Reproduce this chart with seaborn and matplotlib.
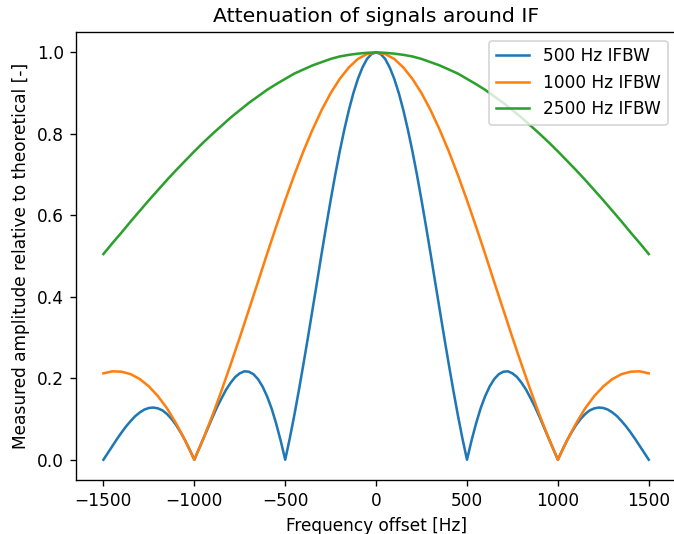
import numpy as np
import pandas as pd
import matplotlib
matplotlib.use("Agg")
import matplotlib.pyplot as plt
import seaborn as sns

# Frequency offsets [Hz]
freq_fine = np.arange(-1500, 1501, 25)   # 500 Hz trace, sampled more densely
freq = np.arange(-1500, 1501, 50)        # 1000 / 2500 Hz traces

# Measured amplitude
amp_500 = [0.000, 0.017, 0.034, 0.051, 0.067, 0.082, 0.095, 0.107, 0.116, 0.123,
           0.127, 0.128, 0.126, 0.121, 0.112, 0.100, 0.085, 0.067, 0.047, 0.024,
           0.000, 0.026, 0.052, 0.078, 0.104, 0.129, 0.151, 0.172, 0.189, 0.203,
           0.212, 0.217, 0.216, 0.210, 0.198, 0.180, 0.156, 0.126, 0.089, 0.047,
           0.000, 0.052, 0.109, 0.170, 0.234, 0.300, 0.368, 0.436, 0.505, 0.572,
           0.637, 0.699, 0.757, 0.810, 0.858, 0.900, 0.935, 0.963, 0.984, 0.996,
           1.000,
           0.996, 0.984, 0.963, 0.935, 0.900, 0.858, 0.810, 0.757, 0.699, 0.637,
           0.572, 0.505, 0.436, 0.368, 0.300, 0.234, 0.170, 0.109, 0.052, 0.000,
           0.047, 0.089, 0.126, 0.156, 0.180, 0.198, 0.210, 0.216, 0.217, 0.212,
           0.203, 0.189, 0.172, 0.151, 0.129, 0.104, 0.078, 0.052, 0.026, 0.000,
           0.024, 0.047, 0.067, 0.085, 0.100, 0.112, 0.121, 0.126, 0.128, 0.127,
           0.123, 0.116, 0.107, 0.095, 0.082, 0.067, 0.051, 0.034, 0.017, 0.000]

amp_1000 = [0.212, 0.217, 0.216, 0.210, 0.198, 0.180, 0.156, 0.126, 0.089, 0.047,
            0.000, 0.052, 0.109, 0.170, 0.234, 0.300, 0.368, 0.436, 0.505, 0.572,
            0.637, 0.699, 0.757, 0.810, 0.858, 0.900, 0.935, 0.963, 0.984, 0.996,
            1.000,
            0.996, 0.984, 0.963, 0.935, 0.900, 0.858, 0.810, 0.757, 0.699, 0.637,
            0.572, 0.505, 0.436, 0.368, 0.300, 0.234, 0.170, 0.109, 0.052, 0.000,
            0.047, 0.089, 0.126, 0.156, 0.180, 0.198, 0.210, 0.216, 0.217, 0.212]

amp_2500 = [0.505, 0.532, 0.558, 0.585, 0.611, 0.637, 0.662, 0.687, 0.711, 0.734,
            0.757, 0.779, 0.800, 0.820, 0.840, 0.858, 0.876, 0.892, 0.908, 0.922,
            0.935, 0.948, 0.958, 0.968, 0.976, 0.984, 0.990, 0.994, 0.997, 0.999,
            1.000,
            0.999, 0.997, 0.994, 0.990, 0.984, 0.976, 0.968, 0.958, 0.948, 0.935,
            0.922, 0.908, 0.892, 0.876, 0.858, 0.840, 0.820, 0.800, 0.779, 0.757,
            0.734, 0.711, 0.687, 0.662, 0.637, 0.611, 0.585, 0.558, 0.532, 0.505]

labels = ["500 Hz IFBW", "1000 Hz IFBW", "2500 Hz IFBW"]

df = pd.concat([
    pd.DataFrame({"freq": freq_fine, "amp": amp_500, "IFBW": labels[0]}),
    pd.DataFrame({"freq": freq, "amp": amp_1000, "IFBW": labels[1]}),
    pd.DataFrame({"freq": freq, "amp": amp_2500, "IFBW": labels[2]}),
])

dpi = 122
fig, ax = plt.subplots(figsize=(674 / dpi, 534 / dpi), dpi=dpi)
sns.lineplot(data=df, x="freq", y="amp", hue="IFBW", palette="tab10",
             linewidth=1.5, ax=ax)

ax.set_title("Attenuation of signals around IF")
ax.set_xlabel("Frequency offset [Hz]")
ax.set_ylabel("Measured amplitude relative to theoretical [-]")
ax.legend(loc="upper right", title=None)

# axes run right up to (and slightly past) the right image edge, as in the original
fig.subplots_adjust(left=0.113, right=1.003, top=0.940, bottom=0.101)
plt.savefig("out.png", dpi=dpi)
